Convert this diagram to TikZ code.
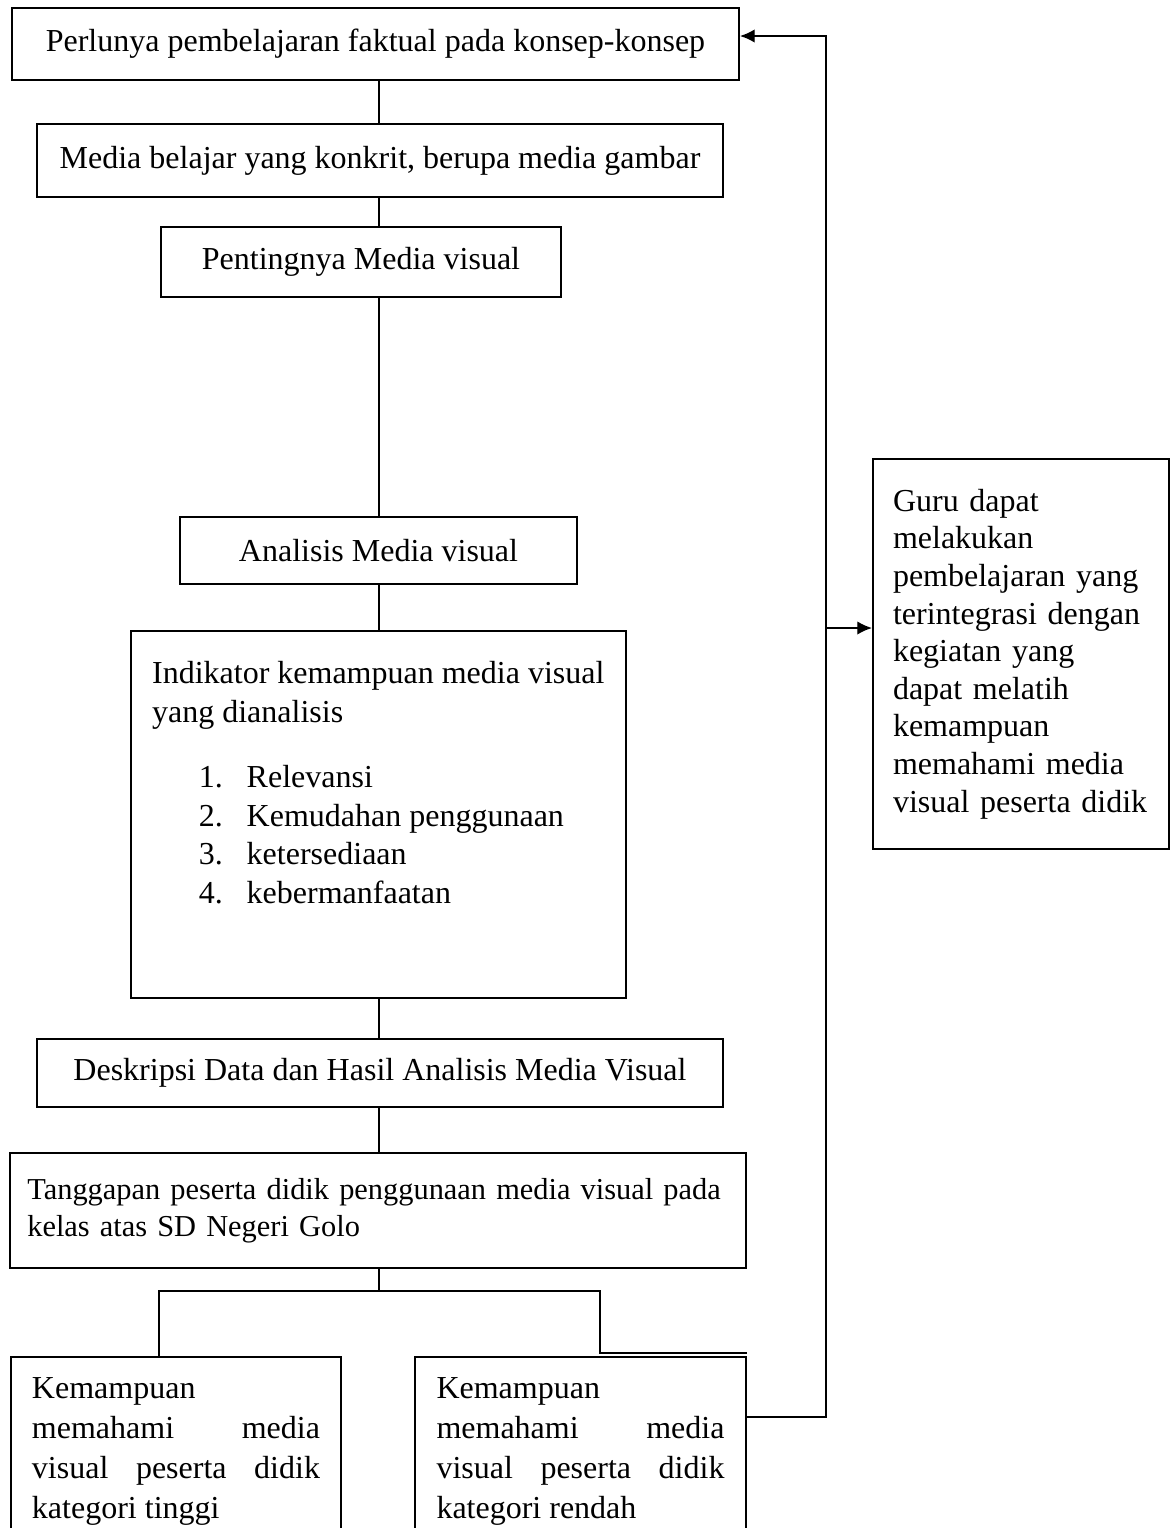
\documentclass[tikz,border=0pt]{standalone}
\usepackage{fontspec}
\setmainfont{Liberation Serif}
\usetikzlibrary{arrows.meta,calc}

\tikzset{
  kotak/.style={draw,line width=0.8pt,inner sep=0pt,font={\fontsize{12}{14.5}\selectfont}},
  garis/.style={line width=0.5pt},
  panah/.style={garis,-{Latex[length=5.5pt,width=5pt]}}
}

\begin{document}
\begin{tikzpicture}[x=0.375pt,y=-0.375pt]
  \clip (0,0) rectangle (1172,1528);
  % alur utama
  \node[kotak,minimum width=272.6pt,minimum height=27pt] (perlu) at (375.5,44) {Perlunya pembelajaran faktual pada konsep-konsep};
  \node[kotak,minimum width=257.3pt,minimum height=27.4pt] (media) at (380,160.5) {Media belajar yang konkrit, berupa media gambar};
  \node[kotak,minimum width=150pt,minimum height=26.3pt] (penting) at (361,262) {Pentingnya Media visual};
  \node[kotak,minimum width=148.9pt,minimum height=25.1pt] (analisis) at (378.5,550.5) {Analisis Media visual};
  \node[kotak,inner xsep=7.9pt,inner ysep=11.3pt] (indikator) at (378.5,814.5) {\parbox[c][115pt][t]{169.8pt}{\raggedright
    Indikator kemampuan media visual\\ yang dianalisis\\[10pt]
    \hspace*{17.5pt}\makebox[18pt][l]{1.}Relevansi\\
    \hspace*{17.5pt}\makebox[18pt][l]{2.}Kemudahan penggunaan\\
    \hspace*{17.5pt}\makebox[18pt][l]{3.}ketersediaan\\
    \hspace*{17.5pt}\makebox[18pt][l]{4.}kebermanfaatan}};
  \node[kotak,minimum width=257.3pt,minimum height=25.5pt] (deskripsi) at (380,1073) {Deskripsi Data dan Hasil Analisis Media Visual};
  \node[kotak,text width=263pt,inner xsep=6.5pt,minimum height=43.1pt,align=left,font={\fontsize{11.4}{13.9}\selectfont}] (tanggapan) at (378,1210.5) {Tanggapan peserta didik penggunaan media visual pada\\ kelas atas SD Negeri Golo};
  % dua kategori
  \node[kotak,anchor=north,inner xsep=8pt,inner ysep=7.5pt,font={\fontsize{12}{15}\selectfont}] (tinggi) at (176,1356) {\parbox[t][75pt][t]{108pt}{Kemampuan\\ memahami\hfill media\\ visual\hfill peserta\hfill didik\\ kategori tinggi}};
  \node[kotak,anchor=north,inner xsep=8pt,inner ysep=7.5pt,font={\fontsize{12}{15}\selectfont}] (rendah) at (580.5,1356) {\parbox[t][75pt][t]{108pt}{Kemampuan\\ memahami\hfill media\\ visual\hfill peserta\hfill didik\\ kategori rendah}};
  \node[kotak,text width=96pt,inner xsep=7.5pt,minimum height=146.3pt,align=left,font={\fontsize{12}{14.1}\selectfont}] (guru) at (1021,654) {Guru dapat\\ melakukan\\ pembelajaran yang\\ terintegrasi dengan\\ kegiatan yang\\ dapat melatih\\ kemampuan\\ memahami media\\ visual peserta didik};
  % penghubung
  \coordinate (spine) at (379,0);
  \foreach \a/\b in {perlu/media,media/penting,penting/analisis,analisis/indikator,indikator/deskripsi,deskripsi/tanggapan}
    \draw[garis] (\a.south -| spine) -- (\b.north -| spine);
  \coordinate (cabang) at (379,1291);
  \coordinate (kiri) at (159,1291);
  \coordinate (kanan) at (600,1291);
  \coordinate (kananbawah) at (600,1353);
  \draw[garis] (tanggapan.south -| cabang) -- (cabang);
  \draw[garis] (cabang) -- (kiri) -- (kiri |- tinggi.north);
  \draw[garis] (cabang) -- (kanan) -- (kananbawah) -- (rendah.east |- kananbawah);
  % umpan balik
  \coordinate (balik) at (826,1417);
  \coordinate (atas) at (826,36);
  \coordinate (tengah) at (826,628);
  \draw[panah] (rendah.east |- balik) -- (balik) -- (atas) -- (perlu.east |- atas);
  \draw[panah] (tengah) -- (guru.west |- tengah);
\end{tikzpicture}
\end{document}
